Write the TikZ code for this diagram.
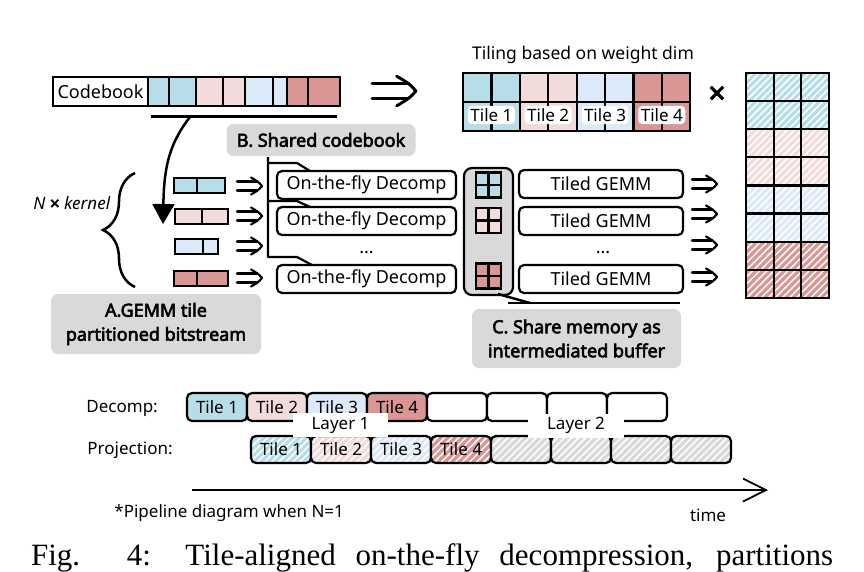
\documentclass[tikz,border=0pt]{standalone}
\usepackage{fontspec}
\setmainfont{Noto Sans}[AutoFakeBold=3.2]
\newfontfamily\capfont{Liberation Serif}
\usetikzlibrary{positioning,arrows.meta,decorations.pathreplacing,patterns.meta,calc}
\definecolor{tealc}{HTML}{B7DEE8}
\definecolor{pinkc}{HTML}{F2DCDB}
\definecolor{bluec}{HTML}{DCE9F8}
\definecolor{redc}{HTML}{D99694}
\definecolor{grayc}{HTML}{D9D9D9}
\begin{document}
\begin{tikzpicture}[x=1pt,y=-1pt,line width=2.2pt,
    cell/.style={rectangle,draw,outer sep=0pt,inner sep=0pt,minimum height=29pt},
    box/.style={rectangle,draw,rounded corners=5pt,outer sep=0pt,minimum height=28pt,font=\fontsize{18}{21}\selectfont},
    tilebox/.style={rectangle,draw,rounded corners=5pt,outer sep=0pt,inner sep=0pt,minimum width=60pt,minimum height=28pt,font=\fontsize{17}{20}\selectfont},
    lbl/.style={rectangle,fill=grayc,rounded corners=7pt,align=center,font=\bfseries\fontsize{18}{24}\selectfont},
    hatch/.style={preaction={fill=#1},pattern={Lines[angle=45,distance=5pt,line width=1.5pt]},pattern color=white},
    txt/.style={font=\fontsize{17}{20}\selectfont},
    fatarrow/.pic={
        \draw[line cap=round] (-12.5,-4.5) -- (8,-4.5) (-12.5,4.5) -- (8,4.5);
        \draw[line cap=round,line join=round] (1.5,-8.5) .. controls (9,-4) .. (12.5,0) .. controls (9,4) .. (1.5,8.5);}]
    \useasboundingbox (0,0) rectangle (864,571);

    % codebook
    \node [cell,minimum width=95pt,anchor=west,font=\fontsize{18}{21}\selectfont](cb) at (53,91.5) {Codebook};
    \node [cell,fill=tealc,minimum width=21pt](c1) [right=0pt of cb]{};
    \node [cell,fill=tealc,minimum width=27pt](c2) [right=0pt of c1]{};
    \node [cell,fill=pinkc,minimum width=27pt](c3) [right=0pt of c2]{};
    \node [cell,fill=pinkc,minimum width=22pt](c4) [right=0pt of c3]{};
    \node [cell,fill=bluec,minimum width=28pt](c5) [right=0pt of c4]{};
    \node [cell,fill=bluec,minimum width=14pt](c6) [right=0pt of c5]{};
    \node [cell,fill=redc,minimum width=21pt](c7) [right=0pt of c6]{};
    \node [cell,fill=redc,minimum width=32pt](c8) [right=0pt of c7]{};
    \draw [line width=3pt] (151,116) coordinate (ul) -- (337,116);
    \coordinate (src) at (190,117);
    \coordinate (dst) at (163,224);
    \draw [line width=2.5pt,-{Triangle[length=20pt,width=22pt]}] (src) .. controls (168,145) and (164,170) .. (dst);
    \pic [scale=1.75,line width=3pt] at (394,91) {fatarrow};

    % tiling
    \node [font=\fontsize{17.5}{20}\selectfont](tl) at (583,55) {Tiling based on weight dim};
    \node [cell,fill=tealc,minimum width=28.4pt,anchor=north west](t1) at (463,73) {};
    \node [cell,fill=tealc,minimum width=28.4pt](t2) [right=0pt of t1]{};
    \node [cell,fill=pinkc,minimum width=28.4pt](t3) [right=0pt of t2]{};
    \node [cell,fill=pinkc,minimum width=28.4pt](t4) [right=0pt of t3]{};
    \node [cell,fill=bluec,minimum width=28.4pt](t5) [right=0pt of t4]{};
    \node [cell,fill=bluec,minimum width=28.4pt](t6) [right=0pt of t5]{};
    \node [cell,fill=redc,minimum width=28.4pt](t7) [right=0pt of t6]{};
    \node [cell,fill=redc,minimum width=28.4pt](t8) [right=0pt of t7]{};
    \node [cell,fill=tealc,minimum width=28.4pt](b1) [below=0pt of t1]{};
    \node [cell,fill=tealc,minimum width=28.4pt](b2) [below=0pt of t2]{};
    \node [cell,fill=pinkc,minimum width=28.4pt](b3) [below=0pt of t3]{};
    \node [cell,fill=pinkc,minimum width=28.4pt](b4) [below=0pt of t4]{};
    \node [cell,fill=bluec,minimum width=28.4pt](b5) [below=0pt of t5]{};
    \node [cell,fill=bluec,minimum width=28.4pt](b6) [below=0pt of t6]{};
    \node [cell,fill=redc,minimum width=28.4pt](b7) [below=0pt of t7]{};
    \node [cell,fill=redc,minimum width=28.4pt](b8) [below=0pt of t8]{};
    \node [txt,fill=white,rounded corners=4pt,inner sep=2.5pt,yshift=1.5pt](tile1) at ($(b1)!0.5!(b2)$) {Tile 1};
    \node [txt,fill=white,rounded corners=4pt,inner sep=2.5pt,yshift=1.5pt](tile2) at ($(b3)!0.5!(b4)$) {Tile 2};
    \node [txt,fill=white,rounded corners=4pt,inner sep=2.5pt,yshift=1.5pt](tile3) at ($(b5)!0.5!(b6)$) {Tile 3};
    \node [txt,fill=white,rounded corners=4pt,inner sep=2.5pt,yshift=1.5pt](tile4) at ($(b7)!0.5!(b8)$) {Tile 4};
    \node [font=\bfseries\fontsize{30}{30}\selectfont](times) at (717,95) {×};

    % weight matrix
    \node [cell,hatch=tealc,minimum width=83pt,minimum height=28.1pt,anchor=north west](m1) at (746,73) {};
    \node [cell,hatch=tealc,minimum width=83pt,minimum height=28.1pt](m2) [below=0pt of m1]{};
    \node [cell,hatch=pinkc,minimum width=83pt,minimum height=28.1pt](m3) [below=0pt of m2]{};
    \node [cell,hatch=pinkc,minimum width=83pt,minimum height=28.1pt](m4) [below=0pt of m3]{};
    \node [cell,hatch=bluec,minimum width=83pt,minimum height=28.1pt](m5) [below=0pt of m4]{};
    \node [cell,hatch=bluec,minimum width=83pt,minimum height=28.1pt](m6) [below=0pt of m5]{};
    \node [cell,hatch=redc,minimum width=83pt,minimum height=28.1pt](m7) [below=0pt of m6]{};
    \node [cell,hatch=redc,minimum width=83pt,minimum height=28.1pt](m8) [below=0pt of m7]{};
    \draw ($(m1.north west)!1/3!(m1.north east)$) -- ($(m8.south west)!1/3!(m8.south east)$);
    \draw ($(m1.north west)!2/3!(m1.north east)$) -- ($(m8.south west)!2/3!(m8.south east)$);

    % bitstreams
    \node [font=\fontsize{17}{20}\selectfont](nk) at (72,203) {\textbf{\textit{N}} \textbf{×} \textit{kernel}};
    \draw [decorate,decoration={brace,amplitude=32pt},line width=2.5pt] (135,287) coordinate (br2) -- (135,173) coordinate (br1);
    \node [cell,fill=tealc,minimum width=23pt,minimum height=15pt,anchor=west](s11) at (174,185.5) {};
    \node [cell,fill=tealc,minimum width=28pt,minimum height=15pt](s12) [right=0pt of s11]{};
    \node [cell,fill=pinkc,minimum width=27pt,minimum height=15pt,anchor=west](s21) at (175,216.5) {};
    \node [cell,fill=pinkc,minimum width=26pt,minimum height=15pt](s22) [right=0pt of s21]{};
    \node [cell,fill=bluec,minimum width=28pt,minimum height=15pt,anchor=west](s31) at (175,246.5) {};
    \node [cell,fill=bluec,minimum width=15pt,minimum height=15pt](s32) [right=0pt of s31]{};
    \node [cell,fill=redc,minimum width=23pt,minimum height=15pt,anchor=west](s41) at (174,278.5) {};
    \node [cell,fill=redc,minimum width=31pt,minimum height=15pt](s42) [right=0pt of s41]{};
    \pic at (249.5,186) {fatarrow};
    \pic at (249.5,216) {fatarrow};
    \pic at (249.5,246) {fatarrow};
    \pic at (249.5,278) {fatarrow};
    \node [lbl,minimum width=210pt,minimum height=60pt](lblA) at (156,324) {A.GEMM tile\\partitioned bitstream};

    % decomp
    \node [lbl,minimum width=189pt,minimum height=32pt](lblB) at (321,140) {B. Shared codebook};
    \node [box,minimum width=179pt](d1) at (366.5,185) {On-the-fly Decomp};
    \node [box,minimum width=179pt](d2) at (366.5,221) {On-the-fly Decomp};
    \node [font=\fontsize{18}{21}\selectfont](dd) at (366.5,253) {...};
    \node [box,minimum width=179pt](d4) at (366.5,279) {On-the-fly Decomp};
    \draw [line join=round] (268,157) -- (268,257) -- (297,257) -- ([xshift=35pt]d4.north west);
    \draw [line join=round] (268,163) -- (297,163) -- ([xshift=33pt]d1.north west);
    \draw [line join=round] (268,201) -- (297,201) -- ([xshift=33pt]d2.north west);

    % shared memory
    \node [rectangle,draw,fill=grayc,rounded corners=8pt,minimum width=49pt,minimum height=127pt](buf) at (488.5,231.5) {};
    \node [cell,fill=tealc,minimum width=25pt,minimum height=25pt](g1) at (488.5,185) {};
    \node [cell,fill=pinkc,minimum width=25pt,minimum height=25pt](g2) at (488.5,220.5) {};
    \node [cell,fill=redc,minimum width=25pt,minimum height=25pt](g4) at (488.5,276) {};
    \draw (g1.north) -- (g1.south) (g1.west) -- (g1.east);
    \draw (g2.north) -- (g2.south) (g2.west) -- (g2.east);
    \draw (g4.north) -- (g4.south) (g4.west) -- (g4.east);
    \node [box,minimum width=164pt](gm1) at (601,184) {Tiled GEMM};
    \node [box,minimum width=164pt](gm2) at (601,221) {Tiled GEMM};
    \node [font=\fontsize{18}{21}\selectfont](gd) at (603,253) {...};
    \node [box,minimum width=164pt](gm4) at (601,279) {Tiled GEMM};
    \pic at (704.5,184) {fatarrow};
    \pic at (704.5,214) {fatarrow};
    \pic at (704.5,245) {fatarrow};
    \pic at (704.5,277) {fatarrow};
    \draw [line width=2.5pt] (498,294) -- (530,303);
    \draw [line width=2.5pt] (508,303) -- (680,303);
    \node [lbl,minimum width=209pt,minimum height=59pt](lblC) at (576.5,338.5) {C. Share memory as\\intermediated buffer};

    % pipeline
    \node [txt,anchor=west](dlab) at (82,408) {Decomp:};
    \node [txt,anchor=west](plab) at (83,450) {Projection:};
    \node [tilebox,fill=tealc](p1) at (217,407) {Tile 1};
    \node [tilebox,fill=pinkc](p2) [right=0pt of p1]{Tile 2};
    \node [tilebox,fill=bluec](p3) [right=0pt of p2]{Tile 3};
    \node [tilebox,fill=redc](p4) [right=0pt of p3]{Tile 4};
    \node [tilebox,fill=white](p5) [right=0pt of p4]{};
    \node [tilebox,fill=white](p6) [right=0pt of p5]{};
    \node [tilebox,fill=white](p7) [right=0pt of p6]{};
    \node [tilebox,fill=white](p8) [right=0pt of p7]{};
    \node [tilebox,hatch=tealc,minimum height=27pt](q1) at (281,449.5) {Tile 1};
    \node [tilebox,hatch=pinkc,minimum height=27pt](q2) [right=0pt of q1]{Tile 2};
    \node [tilebox,hatch=bluec,minimum height=27pt](q3) [right=0pt of q2]{Tile 3};
    \node [tilebox,hatch=redc,minimum height=27pt](q4) [right=0pt of q3]{Tile 4};
    \node [tilebox,hatch=grayc,minimum height=27pt](q5) [right=0pt of q4]{};
    \node [tilebox,hatch=grayc,minimum height=27pt](q6) [right=0pt of q5]{};
    \node [tilebox,hatch=grayc,minimum height=27pt](q7) [right=0pt of q6]{};
    \node [tilebox,hatch=grayc,minimum height=27pt](q8) [right=0pt of q7]{};
    \node [txt,fill=white,minimum width=95pt,minimum height=24pt](ly1) at (340.5,425) {Layer 1};
    \node [txt,fill=white,minimum width=96pt,minimum height=24pt](ly2) at (576,425.5) {Layer 2};
    \coordinate (tstart) at (192,490);
    \coordinate (tend) at (768,490);
    \draw [line width=1.8pt,-{Straight Barb[length=23pt,width=23pt]}] (tstart) -- (tend);
    \node [txt,anchor=west](note) at (110,513) {*Pipeline diagram when N=1};
    \node [txt](tm) at (708,515) {time};

    \node [anchor=base west,inner sep=0pt,font=\capfont\fontsize{31}{31}\selectfont](cap) at (30,565) {\makebox[802pt][s]{Fig. 4: Tile-aligned on-the-fly decompression, partitions}};
\end{tikzpicture}
\end{document}
